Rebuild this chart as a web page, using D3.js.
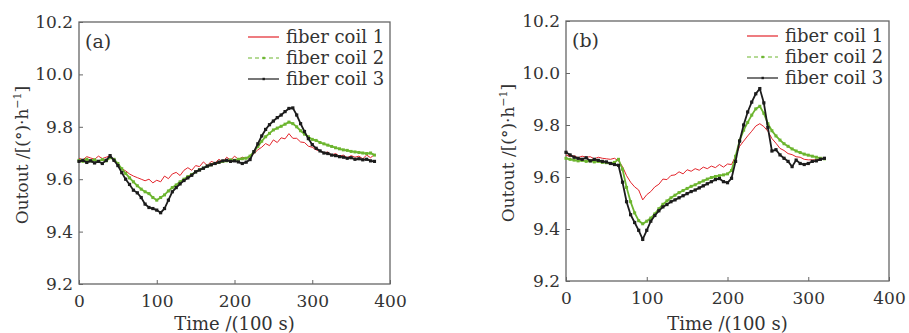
<!DOCTYPE html>
<html>
<head>
<meta charset="utf-8">
<script src="https://cdn.jsdelivr.net/npm/d3@7"></script>
<style>
  body { margin: 0; background: #fff; }
  svg text { font-family: "DejaVu Serif", serif; fill: #333; }
</style>
</head>
<body>
<svg id="chart" width="909" height="333"></svg>
<script>
// time step of the sampled readings, in units of 100 s
const step = 5;

const seriesNames = ['fiber coil 1', 'fiber coil 2', 'fiber coil 3'];
const yTicks = [9.2, 9.4, 9.6, 9.8, 10.0, 10.2];
const xTicks = [0, 100, 200, 300, 400];

// panel (a), t = 0..380
const coil1A = [9.680, 9.674, 9.686, 9.681, 9.676, 9.688, 9.679, 9.684, 9.690, 9.668,
  9.658, 9.640, 9.632, 9.620, 9.612, 9.606, 9.600, 9.594, 9.600, 9.586,
  9.596, 9.590, 9.612, 9.602, 9.620, 9.626, 9.614, 9.634, 9.644, 9.634,
  9.652, 9.648, 9.666, 9.652, 9.668, 9.662, 9.676, 9.666, 9.684, 9.672,
  9.688, 9.676, 9.684, 9.680, 9.686, 9.698, 9.712, 9.722, 9.736, 9.728,
  9.750, 9.740, 9.758, 9.754, 9.774, 9.756, 9.756, 9.742, 9.740, 9.726,
  9.722, 9.712, 9.708, 9.700, 9.704, 9.692, 9.698, 9.688, 9.692, 9.682,
  9.690, 9.684, 9.688, 9.678, 9.692, 9.682, 9.694];
const coil2A = [9.672, 9.668, 9.676, 9.670, 9.674, 9.668, 9.675, 9.670, 9.682, 9.676,
  9.660, 9.640, 9.622, 9.605, 9.590, 9.575, 9.562, 9.552, 9.545, 9.530,
  9.520, 9.530, 9.540, 9.555, 9.568, 9.578, 9.590, 9.600, 9.610, 9.618,
  9.628, 9.636, 9.642, 9.650, 9.655, 9.660, 9.664, 9.668, 9.670, 9.674,
  9.672, 9.676, 9.678, 9.680, 9.688, 9.705, 9.725, 9.745, 9.762, 9.775,
  9.788, 9.795, 9.802, 9.810, 9.818, 9.812, 9.800, 9.785, 9.772, 9.762,
  9.752, 9.748, 9.740, 9.735, 9.730, 9.725, 9.720, 9.716, 9.712, 9.710,
  9.706, 9.704, 9.702, 9.700, 9.698, 9.700, 9.692];
const coil3A = [9.668, 9.672, 9.664, 9.670, 9.662, 9.668, 9.660, 9.672, 9.690, 9.672,
  9.652, 9.625, 9.600, 9.580, 9.558, 9.548, 9.530, 9.505, 9.492, 9.488,
  9.482, 9.472, 9.488, 9.520, 9.552, 9.568, 9.582, 9.595, 9.605, 9.615,
  9.628, 9.635, 9.642, 9.650, 9.655, 9.660, 9.665, 9.670, 9.672, 9.668,
  9.670, 9.666, 9.660, 9.665, 9.675, 9.705, 9.735, 9.765, 9.790, 9.808,
  9.822, 9.835, 9.845, 9.858, 9.870, 9.872, 9.845, 9.812, 9.782, 9.755,
  9.732, 9.718, 9.708, 9.700, 9.698, 9.692, 9.690, 9.686, 9.684, 9.680,
  9.682, 9.676, 9.678, 9.674, 9.676, 9.670, 9.668];

// panel (b), t = 0..320
const coil1B = [9.685, 9.678, 9.682, 9.674, 9.680, 9.676, 9.678, 9.670, 9.676, 9.672,
  9.670, 9.668, 9.672, 9.662, 9.640, 9.605, 9.580, 9.562, 9.550, 9.512,
  9.532, 9.544, 9.562, 9.572, 9.592, 9.590, 9.606, 9.608, 9.620, 9.612,
  9.628, 9.622, 9.632, 9.626, 9.638, 9.632, 9.642, 9.636, 9.648, 9.638,
  9.650, 9.648, 9.680, 9.718, 9.738, 9.758, 9.776, 9.796, 9.805, 9.794,
  9.776, 9.748, 9.730, 9.710, 9.702, 9.690, 9.686, 9.678, 9.676, 9.668,
  9.666, 9.666, 9.666, 9.668, 9.675];
const coil2B = [9.672, 9.668, 9.665, 9.662, 9.664, 9.660, 9.662, 9.658, 9.660, 9.656,
  9.655, 9.652, 9.656, 9.668, 9.630, 9.560, 9.505, 9.462, 9.432, 9.420,
  9.430, 9.442, 9.458, 9.478, 9.495, 9.508, 9.520, 9.530, 9.540, 9.548,
  9.556, 9.564, 9.570, 9.578, 9.585, 9.592, 9.598, 9.602, 9.605, 9.608,
  9.612, 9.625, 9.680, 9.740, 9.780, 9.810, 9.838, 9.862, 9.872, 9.845,
  9.805, 9.778, 9.758, 9.742, 9.728, 9.718, 9.708, 9.700, 9.694, 9.688,
  9.684, 9.680, 9.676, 9.672, 9.670];
const coil3B = [9.695, 9.685, 9.676, 9.672, 9.668, 9.674, 9.662, 9.668, 9.664, 9.660,
  9.658, 9.652, 9.648, 9.645, 9.580, 9.505, 9.455, 9.425, 9.395, 9.360,
  9.395, 9.430, 9.452, 9.470, 9.485, 9.494, 9.505, 9.512, 9.520, 9.528,
  9.536, 9.544, 9.550, 9.558, 9.566, 9.574, 9.582, 9.590, 9.594, 9.582,
  9.578, 9.595, 9.660, 9.738, 9.800, 9.850, 9.888, 9.920, 9.940, 9.885,
  9.790, 9.700, 9.705, 9.685, 9.672, 9.660, 9.640, 9.665, 9.652, 9.648,
  9.652, 9.660, 9.662, 9.668, 9.672];

const colors = ['#e3242b', '#6cb52f', '#1c1c1c'];

const panels = [
  {label: '(a)', left: 79, right: 390, top: 22, bottom: 284, titleX: 28,
    legendX: 248, series: [coil1A, coil2A, coil3A]},
  {label: '(b)', left: 566, right: 889, top: 21, bottom: 281, titleX: 514,
    legendX: 747, series: [coil1B, coil2B, coil3B]}
];

const svg = d3.select('#chart');

for (const p of panels) {
  drawPanel(p);
}

function drawPanel(p) {
  const g = svg.append('g');
  const x = d3.scaleLinear().domain([0, 400]).range([p.left, p.right]);
  const y = d3.scaleLinear().domain([9.2, 10.2]).range([p.bottom, p.top]);

  // inward ticks
  g.append('g')
    .attr('transform', `translate(0, ${p.bottom})`)
    .call(d3.axisBottom(x).tickValues(xTicks).tickSizeInner(-4).tickSizeOuter(0).tickPadding(11))
    .call(a => a.select('.domain').remove())
    .call(a => a.selectAll('line').attr('stroke', '#666'))
    .call(a => a.selectAll('text').attr('font-size', 17).attr('font-family', '"DejaVu Serif", serif').attr('fill', '#333'));

  g.append('g')
    .attr('transform', `translate(${p.left}, 0)`)
    .call(d3.axisLeft(y).tickValues(yTicks).tickFormat(d3.format('.1f')).tickSizeInner(-4).tickSizeOuter(0).tickPadding(6))
    .call(a => a.select('.domain').remove())
    .call(a => a.selectAll('line').attr('stroke', '#666'))
    .call(a => a.selectAll('text').attr('font-size', 17).attr('font-family', '"DejaVu Serif", serif').attr('fill', '#333'));

  g.append('rect')
    .attr('x', p.left)
    .attr('y', p.top)
    .attr('width', p.right - p.left)
    .attr('height', p.bottom - p.top)
    .attr('fill', 'none')
    .attr('stroke', '#666')
    .attr('stroke-width', 1.3);

  const line = d3.line()
    .x((d, i) => x(i * step))
    .y(d => y(d));

  p.series.forEach((vals, k) => {
    g.append('path')
      .datum(vals)
      .attr('fill', 'none')
      .attr('stroke', colors[k])
      .attr('stroke-width', k === 0 ? 1 : 1.8)
      .attr('d', line);
    if (k > 0) {
      const s = k === 2 ? 3.2 : 3;
      g.append('g')
        .selectAll('rect')
        .data(vals)
        .join('rect')
        .attr('x', (d, i) => x(i * step) - s / 2)
        .attr('y', d => y(d) - s / 2)
        .attr('width', s)
        .attr('height', s)
        .attr('fill', colors[k]);
    }
  });

  // axis titles
  g.append('text')
    .attr('x', (p.left + p.right) / 2)
    .attr('y', 330)
    .attr('text-anchor', 'middle')
    .attr('font-size', 18)
    .text('Time /(100 s)');

  const yt = g.append('text')
    .attr('transform', `translate(${p.titleX}, ${(p.top + p.bottom) / 2 + 2}) rotate(-90)`)
    .attr('text-anchor', 'middle')
    .attr('font-size', 17);
  yt.append('tspan').text('Outout /[(°)·h');
  yt.append('tspan').attr('font-size', 11).attr('dy', -7).text('−1');
  yt.append('tspan').attr('dy', 7).text(']');

  g.append('text')
    .attr('x', p.left + 6)
    .attr('y', p.top + 26)
    .attr('font-size', 19)
    .text(p.label);

  // legend
  const rowY = [p.top + 15, p.top + 36, p.top + 57];
  seriesNames.forEach((name, k) => {
    const row = g.append('g').attr('transform', `translate(${p.legendX}, ${rowY[k]})`);
    row.append('line')
      .attr('x1', 0).attr('x2', 31)
      .attr('stroke', colors[k])
      .attr('stroke-width', 1.2)
      .attr('stroke-dasharray', k === 1 ? '4,3' : null);
    if (k > 0) {
      row.append('rect').attr('x', 14.5).attr('y', -1.2).attr('width', 2.4).attr('height', 2.4).attr('fill', colors[k]);
    }
    row.append('text')
      .attr('x', 38)
      .attr('dy', '0.35em')
      .attr('font-size', 18)
      .text(name);
  });
}
</script>
</body>
</html>
